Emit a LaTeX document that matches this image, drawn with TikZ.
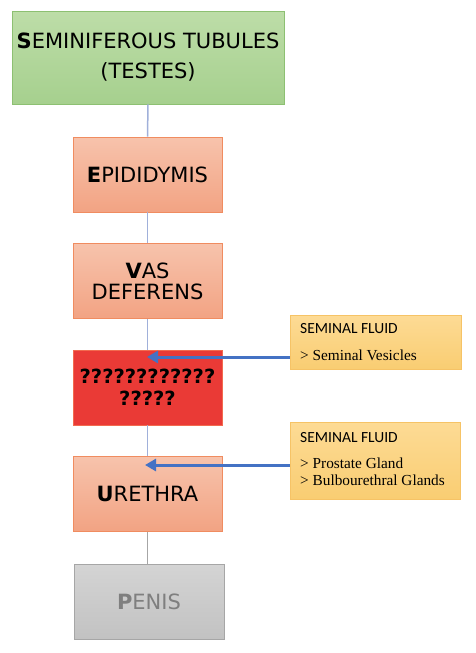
\documentclass[tikz,border=0pt]{standalone}
\usepackage{fontspec}
\setmainfont{DejaVu Sans}
\newfontfamily\calibf{Carlito}
\newfontfamily\timesf{Liberation Serif}
\usetikzlibrary{arrows.meta}
\definecolor{gfill1}{HTML}{BDDDA8}
\definecolor{gfill2}{HTML}{A6D08E}
\definecolor{gline}{HTML}{8DC072}
\definecolor{sfill1}{HTML}{F7C3AC}
\definecolor{sfill2}{HTML}{F2A383}
\definecolor{sline}{HTML}{F08C60}
\definecolor{rfill}{HTML}{EA3A36}
\definecolor{rline}{HTML}{F26A4F}
\definecolor{pfill1}{HTML}{D4D4D4}
\definecolor{pfill2}{HTML}{C2C2C2}
\definecolor{pline}{HTML}{A6A6A6}
\definecolor{yfill1}{HTML}{FDDB95}
\definecolor{yfill2}{HTML}{F9CD72}
\definecolor{yline}{HTML}{F6C366}
\definecolor{conn}{HTML}{A0B0DA}
\definecolor{arrblue}{HTML}{4472C4}
\definecolor{ptext}{HTML}{7F7F7F}
\tikzset{
  boxbase/.style={draw, line width=0.8pt, align=center, inner sep=0pt},
  greenbox/.style={boxbase, draw=gline, top color=gfill1, bottom color=gfill2, minimum width=272pt, minimum height=93pt},
  salmonbox/.style={boxbase, draw=sline, top color=sfill1, bottom color=sfill2, minimum width=149pt, minimum height=75pt},
  redbox/.style={boxbase, draw=rline, fill=rfill, minimum width=149pt, minimum height=75pt},
  greybox/.style={boxbase, draw=pline, top color=pfill1, bottom color=pfill2, minimum width=150pt, minimum height=75pt, text=ptext},
  yellowbox/.style={boxbase, draw=yline, top color=yfill1, bottom color=yfill2},
  headtext/.style={anchor=base west, inner sep=0pt, font=\calibf\fontsize{15.5}{18}\selectfont},
  itemtext/.style={anchor=base west, inner sep=0pt, font=\timesf\fontsize{15.3}{18}\selectfont},
  connline/.style={draw=conn, line width=1.5pt},
  greyline/.style={draw=pline, line width=1.5pt},
  sidearrow/.style={draw=arrblue, line width=3pt, -{Triangle[length=11pt,width=12pt]}},
  bigfont/.style={font=\fontsize{21}{21}\selectfont}
}
\begin{document}
\begin{tikzpicture}[x=1pt,y=-1pt]
\useasboundingbox (0,0) rectangle (475,653);
\node[greenbox, font=\fontsize{21}{30}\selectfont] (semi) at (148,57.5) {\textbf{S}EMINIFEROUS TUBULES\\(TESTES)};
\node[salmonbox, bigfont] (epi) at (147.5,174.5) {\textbf{E}PIDIDYMIS};
\node[salmonbox, bigfont] (vas) at (147.5,281) {\textbf{V}AS\\DEFERENS};
\node[redbox, font=\bfseries\fontsize{19.5}{22}\selectfont] (red) at (147.5,387.5) {????????????\\?????};
\node[salmonbox, bigfont] (ure) at (147.5,494) {\textbf{U}RETHRA};
\node[greybox, bigfont] (pen) at (149,601.5) {\textbf{P}ENIS};

\node[yellowbox, minimum width=171pt, minimum height=54pt] (y1) at (375.5,342) {};
\node[headtext] (y1a) at (300,333) {SEMINAL FLUID};
\node[itemtext] (y1b) at (300,360) {> Seminal Vesicles};
\node[yellowbox, minimum width=170pt, minimum height=77pt] (y2) at (375,460.5) {};
\node[headtext] (y2a) at (300,442) {SEMINAL FLUID};
\node[itemtext] (y2b) at (300,468) {> Prostate Gland};
\node[itemtext] (y2c) at (300,485) {> Bulbourethral Glands};

\draw[connline] (semi.south) -- (epi.north);
\draw[connline] (epi.south) -- (vas.north);
\draw[connline] (vas.south) -- (red.north);
\draw[connline] (red.south) -- (ure.north);
\draw[greyline] (ure.south) -- (ure.south |- pen.north);

\coordinate (a1) at (147,357);
\coordinate (a2) at (145,465);
\draw[sidearrow] (y1.west |- a1) -- (a1);
\draw[sidearrow] (y2.west |- a2) -- (a2);
\end{tikzpicture}
\end{document}
